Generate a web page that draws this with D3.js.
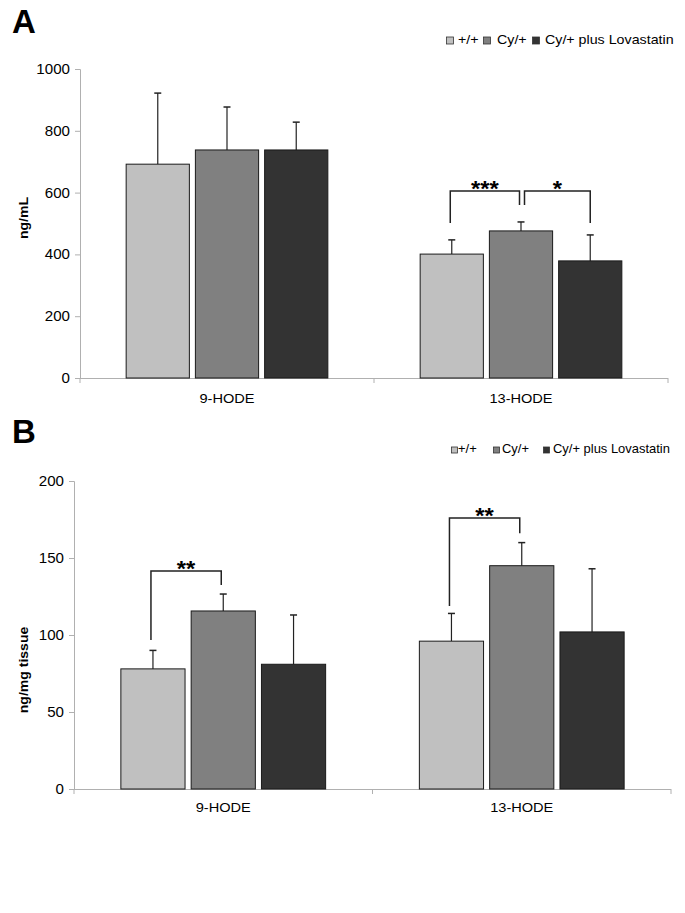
<!DOCTYPE html>
<html><head><meta charset="utf-8">
<script src="https://cdn.jsdelivr.net/npm/d3@7"></script>
<style>body{margin:0;background:#fff}svg{display:block}text{font-family:Arial,"Liberation Sans",sans-serif}</style>
</head><body>
<svg id="c" width="685" height="913"></svg>
<script>
const groups = ["9-HODE", "13-HODE"];
const series = ["+/+", "Cy/+", "Cy/+ plus Lovastatin"];
const colors = ["#c0c0c0", "#808080", "#333333"];

// Panel A (ng/mL)
const aMean = [[692, 738, 738], [401, 476, 379]];
const aErr  = [[230, 139, 90], [46, 29, 84]];
const aTicks = [0, 200, 400, 600, 800, 1000];
const aBrackets = [
  {g: 1, from: 0, to: 1, top: 605, lo: 502, hi: 560, label: "***", dx: [-1.5, -1.5]},
  {g: 1, from: 1, to: 2, top: 605, lo: 560, hi: 502, label: "*", dx: [3.5, 0]}
];
// Panel B (ng/mg tissue)
const bMean = [[78, 115.6, 81], [96, 145, 102]];
const bErr  = [[12, 11, 32], [18, 15, 41]];
const bTicks = [0, 50, 100, 150, 200];
const bBrackets = [
  {g: 0, from: 0, to: 1, top: 141.6, lo: 96.8, hi: 132.5, label: "**", dx: [-2, -2]},
  {g: 1, from: 0, to: 1, top: 176, lo: 118.8, hi: 166, label: "**", dx: [-2, -2]}
];

const svg = d3.select("#c");
const SX = 1.08;
function txt(g, x, y, s, size, anchor, weight, rot) {
  const t = g.append("text")
    .attr("transform", `translate(${x},${y})` + (rot ? ` rotate(${rot})` : "") + ` scale(${SX},1)`)
    .attr("font-size", size).attr("text-anchor", anchor || "start")
    .attr("font-weight", weight || "normal").attr("fill", "#000").text(s);
  return t;
}

function panel(o) {
  const g = svg.append("g");
  const y = d3.scaleLinear().domain([0, o.max]).range([o.y0, o.y1]);
  const x0 = d3.scaleBand().domain(groups).range([o.xL, o.xR]).padding(0);
  const bw = x0.bandwidth();
  const x1 = d3.scaleBand().domain(d3.range(3)).range([bw * 0.157, bw * 0.843]).paddingInner(0.087);

  // y axis
  const ya = g.append("g").attr("transform", `translate(${o.xL},0)`)
    .call(d3.axisLeft(y).tickValues(o.ticks).tickSize(5).tickPadding(5).tickFormat(d3.format("d")));
  ya.select(".domain").attr("stroke", "#b0b0b0");
  ya.selectAll(".tick line").attr("stroke", "#b0b0b0");
  ya.selectAll(".tick text").remove();
  o.ticks.forEach(v => txt(g, o.xL - 10, y(v) + 5, String(v), 14, "end"));

  // x axis
  g.append("line").attr("x1", o.xL).attr("x2", o.xR).attr("y1", y(0) + 0.5).attr("y2", y(0) + 0.5)
    .attr("stroke", "#b0b0b0");
  [o.xL, x0(groups[1]), o.xR].forEach(xx => g.append("line")
    .attr("x1", xx).attr("x2", xx).attr("y1", y(0)).attr("y2", y(0) + 5).attr("stroke", "#b0b0b0"));
  groups.forEach(gr => txt(g, x0(gr) + bw / 2, o.catY, gr, 13.5, "middle"));

  // bars
  groups.forEach((gr, gi) => {
    series.forEach((s, si) => {
      const bx = x0(gr) + x1(si), w = x1.bandwidth(), m = o.mean[gi][si], e = o.err[gi][si];
      const cx = bx + w / 2;
      g.append("line").attr("x1", cx).attr("x2", cx).attr("y1", y(m)).attr("y2", y(m + e))
        .attr("stroke", "#222").attr("stroke-width", 1.2);
      g.append("line").attr("x1", cx - 3.5).attr("x2", cx + 3.5).attr("y1", y(m + e)).attr("y2", y(m + e))
        .attr("stroke", "#222").attr("stroke-width", 1.5);
      g.append("rect").attr("x", bx).attr("y", y(m)).attr("width", w).attr("height", y(0) - y(m))
        .attr("fill", colors[si]).attr("stroke", "#1a1a1a").attr("stroke-width", 1);
    });
  });

  // significance brackets
  o.brackets.forEach(b => {
    const gr = groups[b.g], w = x1.bandwidth();
    const xa = x0(gr) + x1(b.from) + w / 2 + b.dx[0];
    const xb = x0(gr) + x1(b.to) + w / 2 + b.dx[1];
    g.append("path").attr("d", `M${xa},${y(b.lo)}V${y(b.top)}H${xb}V${y(b.hi)}`)
      .attr("fill", "none").attr("stroke", "#222").attr("stroke-width", 1.5);
    txt(g, (xa + xb) / 2, y(b.top) + 5, b.label, 22, "middle", "bold");
  });

  // y label
  txt(g, o.ylabX, o.ylabY, o.ylab, 13, "middle", "bold", -90);
  // panel letter
  g.append("text").attr("x", 12).attr("y", o.letterY).attr("font-size", 33).attr("font-weight", "bold")
    .text(o.letter);

  // legend
  series.forEach((s, i) => {
    g.append("rect").attr("x", o.leg[i][0]).attr("y", o.legY - o.sq).attr("width", o.sq).attr("height", o.sq)
      .attr("fill", colors[i]).attr("stroke", "#333").attr("stroke-width", 0.8);
    txt(g, o.leg[i][1], o.legY, s, o.legFs, "start");
  });
}

panel({letter: "A", letterY: 33, max: 1000, y0: 378, y1: 69, xL: 80, xR: 668, ticks: aTicks,
  mean: aMean, err: aErr, brackets: aBrackets, catY: 403, ylab: "ng/mL", ylabX: 28, ylabY: 218,
  leg: [[446.5, 458], [483.5, 497], [532.5, 545]], legY: 44, sq: 7, legFs: 13.2});
panel({letter: "B", letterY: 443, max: 200, y0: 789, y1: 481, xL: 74, xR: 671, ticks: bTicks,
  mean: bMean, err: bErr, brackets: bBrackets, catY: 812, ylab: "ng/mg tissue", ylabX: 28, ylabY: 670,
  leg: [[451.5, 458], [493.5, 502], [543.5, 553]], legY: 453, sq: 6, legFs: 12});
</script>
</body></html>
